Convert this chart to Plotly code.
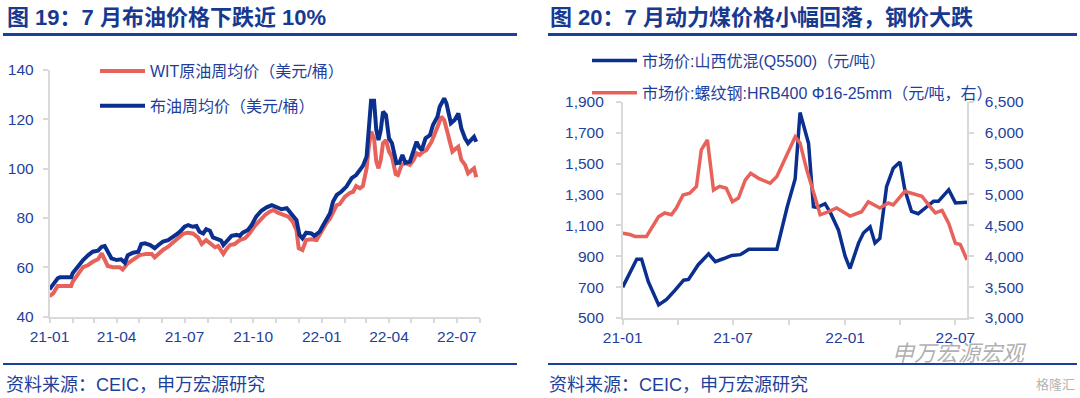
import plotly.graph_objects as go

W, H = 1080, 398

# ---------------- Left chart: weekly oil prices (USD/bbl) ----------------
wti_dates = ["2021-01-01", "2021-01-06", "2021-01-12", "2021-01-30", "2021-02-01", "2021-02-08",
             "2021-02-15", "2021-02-22", "2021-02-28", "2021-03-07", "2021-03-12", "2021-03-20",
             "2021-03-27", "2021-04-05", "2021-04-09", "2021-04-16", "2021-04-23", "2021-05-02",
             "2021-05-11", "2021-05-18", "2021-05-22", "2021-05-27", "2021-06-02", "2021-06-09",
             "2021-06-16", "2021-06-22", "2021-06-29", "2021-07-05", "2021-07-12", "2021-07-19",
             "2021-07-24", "2021-07-30", "2021-08-06", "2021-08-11", "2021-08-15", "2021-08-22",
             "2021-08-26", "2021-08-31", "2021-09-06", "2021-09-13", "2021-09-20", "2021-09-26",
             "2021-10-03", "2021-10-10", "2021-10-17", "2021-10-23", "2021-10-28", "2021-11-03",
             "2021-11-10", "2021-11-17", "2021-11-23", "2021-11-28", "2021-12-01", "2021-12-06",
             "2021-12-11", "2021-12-18", "2021-12-25", "2021-12-31", "2022-01-07", "2022-01-12",
             "2022-01-16", "2022-01-21", "2022-01-25", "2022-02-01", "2022-02-08", "2022-02-12",
             "2022-02-16", "2022-02-21", "2022-02-25", "2022-03-02", "2022-03-05", "2022-03-08",
             "2022-03-12", "2022-03-15", "2022-03-18", "2022-03-21", "2022-03-24", "2022-03-28",
             "2022-04-01", "2022-04-05", "2022-04-10", "2022-04-13", "2022-04-18", "2022-04-23",
             "2022-04-29", "2022-05-04", "2022-05-08", "2022-05-12", "2022-05-17", "2022-05-21",
             "2022-05-28", "2022-06-01", "2022-06-07", "2022-06-10", "2022-06-14", "2022-06-17",
             "2022-06-22", "2022-06-25", "2022-06-30", "2022-07-03", "2022-07-07", "2022-07-12",
             "2022-07-16", "2022-07-21", "2022-07-24", "2022-07-27"]
wti_vals = [48.3, 49.4, 52.4, 52.4, 54.1, 57.2,
            60.0, 60.9, 62.2, 63.2, 65.6, 60.5,
            60.0, 60.0, 59.1, 61.6, 62.9, 64.9,
            65.4, 65.4, 64.0, 65.6, 67.0, 68.3,
            70.0, 71.3, 73.5, 74.0, 73.7, 72.1,
            69.4, 71.0, 69.0, 68.1, 68.6, 65.4,
            67.3, 69.0, 69.4, 71.0, 71.7, 73.7,
            76.7, 79.1, 81.2, 82.5, 83.2, 82.1,
            81.2, 80.5, 78.5, 75.1, 67.7, 67.0,
            71.0, 71.3, 71.0, 74.4, 77.8, 79.8,
            82.5, 85.2, 85.6, 88.6, 90.2, 90.6,
            92.9, 92.0, 92.9, 100.1, 108.9, 115.0,
            112.3, 102.8, 100.1, 103.5, 110.3, 111.6,
            106.9, 104.8, 97.8, 97.4, 101.5, 102.2,
            101.5, 103.5, 106.2, 105.5, 106.9, 107.5,
            110.9, 113.6, 118.4, 121.1, 119.7, 116.3,
            110.3, 106.9, 108.2, 108.9, 103.5, 101.5,
            98.1, 99.7, 100.1, 96.5]

brent_dates = ["2021-01-01", "2021-01-12", "2021-01-15", "2021-01-30", "2021-02-01", "2021-02-08",
               "2021-02-15", "2021-02-22", "2021-02-28", "2021-03-07", "2021-03-12", "2021-03-16",
               "2021-03-20", "2021-03-25", "2021-04-01", "2021-04-07", "2021-04-12", "2021-04-16",
               "2021-04-23", "2021-04-30", "2021-05-04", "2021-05-09", "2021-05-16", "2021-05-22",
               "2021-05-27", "2021-06-02", "2021-06-09", "2021-06-16", "2021-06-22", "2021-06-27",
               "2021-07-01", "2021-07-06", "2021-07-12", "2021-07-17", "2021-07-21", "2021-07-26",
               "2021-07-30", "2021-08-04", "2021-08-08", "2021-08-15", "2021-08-19", "2021-08-22",
               "2021-08-26", "2021-09-02", "2021-09-09", "2021-09-13", "2021-09-17", "2021-09-24",
               "2021-09-29", "2021-10-05", "2021-10-12", "2021-10-19", "2021-10-26", "2021-11-01",
               "2021-11-08", "2021-11-15", "2021-11-21", "2021-11-28", "2021-12-02", "2021-12-06",
               "2021-12-11", "2021-12-18", "2021-12-22", "2021-12-29", "2022-01-03", "2022-01-07",
               "2022-01-12", "2022-01-16", "2022-01-21", "2022-01-27", "2022-02-03", "2022-02-10",
               "2022-02-16", "2022-02-21", "2022-02-25", "2022-03-02", "2022-03-06", "2022-03-08",
               "2022-03-12", "2022-03-15", "2022-03-18", "2022-03-21", "2022-03-24", "2022-03-28",
               "2022-04-01", "2022-04-05", "2022-04-11", "2022-04-15", "2022-04-19", "2022-04-23",
               "2022-04-29", "2022-05-04", "2022-05-08", "2022-05-11", "2022-05-15", "2022-05-20",
               "2022-05-26", "2022-05-30", "2022-06-05", "2022-06-08", "2022-06-14", "2022-06-17",
               "2022-06-23", "2022-06-28", "2022-07-03", "2022-07-07", "2022-07-12", "2022-07-16",
               "2022-07-21", "2022-07-24", "2022-07-27"]
brent_vals = [51.0, 55.5, 55.9, 55.9, 57.5, 60.5,
              62.9, 64.9, 66.3, 66.7, 68.3, 68.6,
              66.3, 63.6, 62.9, 63.2, 61.8, 64.9,
              65.9, 66.3, 69.4, 69.7, 69.0, 67.7,
              69.0, 70.4, 71.0, 72.4, 73.7, 75.1,
              76.4, 77.1, 76.4, 76.7, 74.4, 73.7,
              75.4, 74.8, 72.1, 71.3, 70.8, 69.0,
              70.4, 72.7, 73.1, 72.7, 74.0, 75.1,
              77.1, 80.5, 82.9, 84.3, 85.2, 84.5,
              83.5, 83.9, 81.9, 79.1, 73.1, 71.7,
              74.0, 73.7, 72.7, 74.4, 77.1, 79.1,
              81.9, 86.6, 89.3, 90.6, 92.7, 96.1,
              97.4, 99.4, 101.1, 104.8, 123.8, 127.5,
              127.5, 115.7, 111.6, 115.7, 123.1, 121.7,
              112.3, 110.3, 102.2, 102.4, 105.5, 102.4,
              102.8, 106.9, 110.9, 108.9, 107.5, 112.3,
              113.6, 117.7, 121.1, 125.1, 128.5, 126.5,
              118.4, 119.7, 122.4, 116.3, 112.3, 110.3,
              112.3, 112.9, 110.9]

left_tick_dates = ["2021-01-01", "2021-04-01", "2021-07-01", "2021-10-01",
                   "2022-01-01", "2022-04-01", "2022-07-01"]
left_tick_text = ["21-01", "21-04", "21-07", "21-10", "22-01", "22-04", "22-07"]

# ---------------- Right chart: coal (left axis) & rebar (right axis), CNY/t ----------------
coal_dates = ["2021-01-01", "2021-01-24", "2021-02-01", "2021-02-12", "2021-03-01", "2021-03-14",
              "2021-03-28", "2021-04-11", "2021-04-19", "2021-05-05", "2021-05-22", "2021-06-02",
              "2021-06-16", "2021-06-29", "2021-07-13", "2021-07-27", "2021-08-09", "2021-09-11",
              "2021-09-28", "2021-10-11", "2021-10-19", "2021-11-02", "2021-11-10", "2021-11-16",
              "2021-11-29", "2021-12-08", "2021-12-21", "2022-01-01", "2022-01-09", "2022-01-23",
              "2022-01-31", "2022-02-11", "2022-02-19", "2022-02-27", "2022-03-10", "2022-03-21",
              "2022-04-01", "2022-04-09", "2022-04-20", "2022-05-01", "2022-05-15", "2022-05-26",
              "2022-06-03", "2022-06-20", "2022-07-01", "2022-07-20"]
coal_vals = [700, 880, 880, 735, 585, 620,
             680, 745, 750, 845, 915, 865,
             885, 905, 910, 945, 945, 945,
             1220, 1400, 1830, 1630, 1220, 1215,
             1240, 1180, 1070, 900, 820, 985,
             1050, 1090, 985, 1015, 1350, 1470,
             1510, 1330, 1190, 1175, 1220, 1255,
             1255, 1330, 1245, 1250]

rebar_dates = ["2021-01-01", "2021-01-13", "2021-01-21", "2021-02-09", "2021-03-01", "2021-03-11",
               "2021-03-22", "2021-03-30", "2021-04-10", "2021-04-21", "2021-05-02", "2021-05-10",
               "2021-05-20", "2021-05-30", "2021-06-09", "2021-06-20", "2021-06-30", "2021-07-10",
               "2021-07-21", "2021-07-30", "2021-08-12", "2021-08-31", "2021-09-11", "2021-09-24",
               "2021-10-11", "2021-10-19", "2021-10-30", "2021-11-13", "2021-11-21", "2021-12-05",
               "2021-12-18", "2022-01-09", "2022-01-28", "2022-02-08", "2022-02-27", "2022-03-13",
               "2022-03-21", "2022-04-09", "2022-05-07", "2022-05-18", "2022-05-29", "2022-06-09",
               "2022-06-20", "2022-07-01", "2022-07-09", "2022-07-20"]
rebar_vals = [4370, 4350, 4320, 4320, 4640, 4700,
              4670, 4780, 4990, 5020, 5130, 5720,
              5880, 5070, 5130, 5100, 4880, 4940,
              5230, 5340, 5260, 5180, 5290, 5560,
              5930, 5830, 5400, 4940, 4670, 4720,
              4780, 4650, 4720, 4880, 4780, 4860,
              4830, 5050, 4970, 4830, 4700, 4740,
              4530, 4210, 4190, 3940]

right_tick_dates = ["2021-01-01", "2021-04-01", "2021-07-01", "2021-10-01",
                    "2022-01-01", "2022-04-01", "2022-07-01"]
right_tick_text = ["21-01", "", "21-07", "", "22-01", "", "22-07"]

# ---------------- Styling ----------------
BLUE = "#0A2F8F"
RED = "#E8625C"
TXT = "#1F3F9C"
AX = "#D9D9D9"
FONT = "Liberation Sans, Noto Sans CJK SC, sans-serif"


def px_x(p):
    return p / W


def px_y(p):
    return 1 - p / H


fig = go.Figure()

fig.add_trace(go.Scatter(x=wti_dates, y=wti_vals, mode="lines", name="WIT原油周均价（美元/桶）",
                         line=dict(color=RED, width=4), xaxis="x", yaxis="y",
                         legend="legend", legendgroup="a"))
fig.add_trace(go.Scatter(x=brent_dates, y=brent_vals, mode="lines", name="布油周均价（美元/桶）",
                         line=dict(color=BLUE, width=4), xaxis="x", yaxis="y",
                         legend="legend", legendgroup="b"))
fig.add_trace(go.Scatter(x=coal_dates, y=coal_vals, mode="lines", name="市场价:山西优混(Q5500)（元/吨）",
                         line=dict(color=BLUE, width=3.5), xaxis="x2", yaxis="y2",
                         legend="legend2", legendgroup="c"))
fig.add_trace(go.Scatter(x=rebar_dates, y=rebar_vals, mode="lines",
                         name="市场价:螺纹钢:HRB400 Φ16-25mm（元/吨，右）",
                         line=dict(color=RED, width=3.5), xaxis="x2", yaxis="y3",
                         legend="legend2", legendgroup="d"))

tickfont = dict(family=FONT, size=15.5, color=TXT)
common = dict(ticks="outside", ticklen=5, tickcolor=AX, tickwidth=1.5,
              showline=True, linecolor=AX, linewidth=1.5, showgrid=False,
              zeroline=False, tickfont=tickfont, automargin=False)

fig.update_layout(
    width=W, height=H,
    margin=dict(l=0, r=0, t=0, b=0, autoexpand=False),
    paper_bgcolor="white", plot_bgcolor="white",
    font=dict(family=FONT, color=TXT),
    hovermode=False,
    xaxis=dict(domain=[px_x(49.5), px_x(480)], type="date",
               range=["2021-01-01", "2022-08-01"],
               tickmode="array", tickvals=left_tick_dates, ticktext=left_tick_text,
               minor=dict(dtick="M1", tick0="2021-01-01", ticks="outside", ticklen=5,
                          tickcolor=AX, tickwidth=1.5, showgrid=False),
               anchor="y", **common),
    yaxis=dict(domain=[px_y(316.5), px_y(70)], range=[40, 140], dtick=20, tick0=40,
               ticklabelstandoff=6, anchor="x", **common),
    xaxis2=dict(domain=[px_x(622.7), px_x(967)], type="date",
                range=["2021-01-01", "2022-07-20"],
                tickmode="array", tickvals=right_tick_dates, ticktext=right_tick_text,
                anchor="y2", **common),
    yaxis2=dict(domain=[px_y(318), px_y(101.7)], range=[500, 1900], dtick=200, tick0=500,
                tickformat=",", ticklabelstandoff=9, anchor="x2", **common),
    yaxis3=dict(overlaying="y2", side="right", range=[3000, 6500], dtick=500, tick0=3000,
                tickformat=",", ticklabelstandoff=8, anchor="x2", **common),
    legend=dict(x=px_x(95), y=px_y(54), xanchor="left", yanchor="top",
                bgcolor="rgba(0,0,0,0)", itemwidth=45, traceorder="grouped",
                tracegroupgap=11, font=dict(family=FONT, size=16, color=TXT)),
    legend2=dict(x=px_x(587), y=px_y(43.5), xanchor="left", yanchor="top",
                 bgcolor="rgba(0,0,0,0)", itemwidth=45, traceorder="grouped",
                 tracegroupgap=8.5, font=dict(family=FONT, size=16, color=TXT)),
    showlegend=True,
)

# Titles, rules, sources
shapes = []
for x0, x1 in [(3, 517), (548, 1077)]:
    shapes.append(dict(type="line", xref="paper", yref="paper", x0=px_x(x0), x1=px_x(x1),
                       y0=px_y(34.5), y1=px_y(34.5), line=dict(color="#1B3F9E", width=3)))
    shapes.append(dict(type="line", xref="paper", yref="paper", x0=px_x(x0), x1=px_x(x1),
                       y0=px_y(364), y1=px_y(364), line=dict(color="#1B3F9E", width=2)))
fig.update_layout(shapes=shapes)

annotations = [
    dict(text="<b>图 19：7 月布油价格下跌近 10%</b>", x=px_x(5), y=px_y(17),
         xanchor="left", yanchor="middle", font=dict(family=FONT, size=22, color="#17398F")),
    dict(text="<b>图 20：7 月动力煤价格小幅回落，钢价大跌</b>", x=px_x(548), y=px_y(17),
         xanchor="left", yanchor="middle", font=dict(family=FONT, size=22, color="#17398F")),
    dict(text="资料来源：CEIC，申万宏源研究", x=px_x(4), y=px_y(385),
         xanchor="left", yanchor="middle", font=dict(family=FONT, size=18, color=TXT)),
    dict(text="资料来源：CEIC，申万宏源研究", x=px_x(547), y=px_y(385),
         xanchor="left", yanchor="middle", font=dict(family=FONT, size=18, color=TXT)),
    dict(text="<i>申万宏源宏观</i>", x=px_x(890), y=px_y(351),
         xanchor="left", yanchor="middle",
         font=dict(family="Noto Sans CJK SC", size=22, color="rgba(150,150,150,0.75)")),
    dict(text="格隆汇", x=px_x(1077), y=px_y(383),
         xanchor="right", yanchor="middle",
         font=dict(family="Noto Sans CJK SC", size=13, color="rgba(170,170,170,0.9)")),
]
for a in annotations:
    a.update(xref="paper", yref="paper", showarrow=False)
fig.update_layout(annotations=annotations)

fig.write_html("out.html", config={"displayModeBar": False},
               post_script="document.body.style.margin='0';document.body.style.padding='0';")
